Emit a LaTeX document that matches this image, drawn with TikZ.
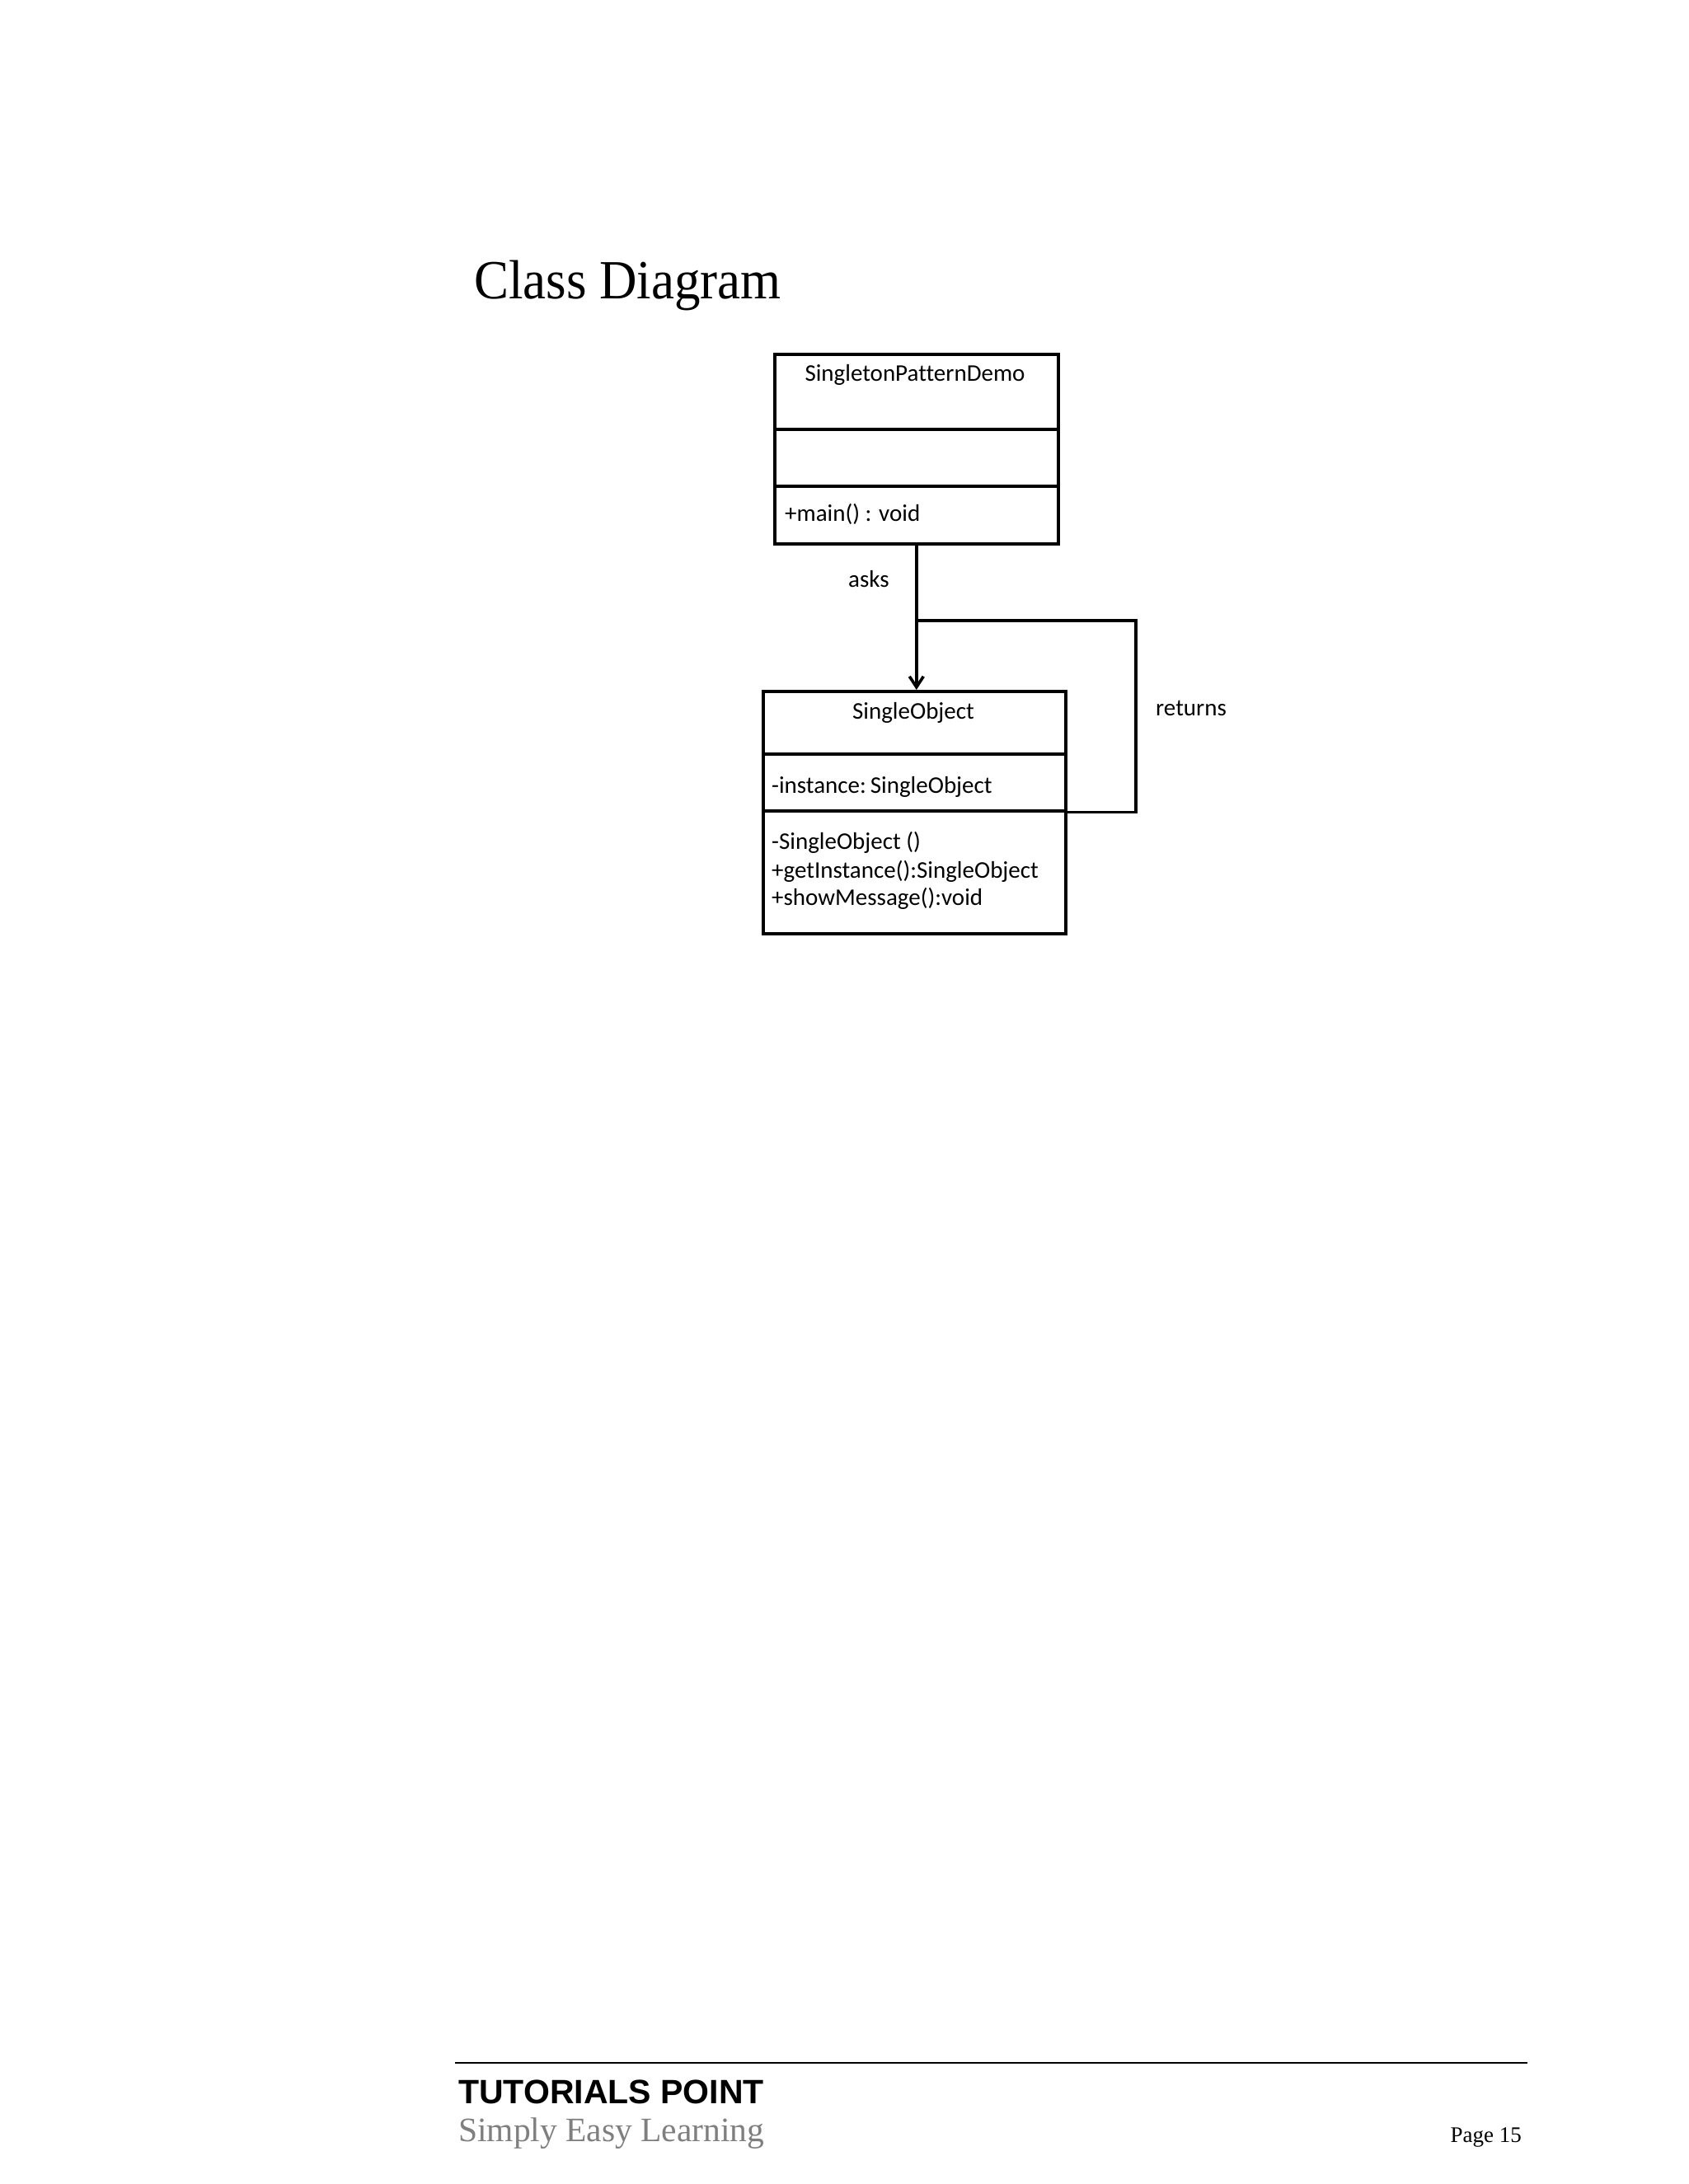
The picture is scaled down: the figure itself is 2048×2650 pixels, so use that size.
\documentclass[tikz,border=0pt]{standalone}
\usepackage{fontspec}
\setmainfont{Liberation Serif}
\newfontfamily\umlfont{Carlito}[Ligatures=NoCommon]
\newfontfamily\headfont{Liberation Sans}
\usetikzlibrary{arrows.meta}
\definecolor{footgray}{HTML}{7F7F7F}
\tikzset{
  compart/.style={draw=black, line width=3.6pt, anchor=north west, inner sep=0pt, minimum width=#1},
  umltext/.style={inner sep=0pt, font=\umlfont\fontsize{29}{34}\selectfont},
  conn/.style={draw=black, line width=3.6pt},
}
\begin{document}
\begin{tikzpicture}[x=1pt,y=-1pt]
\useasboundingbox (0,0) rectangle (2048,2650);
\fill[white] (0,0) rectangle (2048,2650);

% Title
\node[inner sep=0pt, anchor=base west, font=\fontsize{67}{72}\selectfont] (title) at (575,362) {\scalebox{0.94}[1]{Class Diagram}};

% SingletonPatternDemo class
\node[compart=344pt, minimum height=91pt] (demoTitle) at (938,428) {};
\node[compart=344pt, minimum height=69pt] (demoAttr) at (938,519) {};
\node[compart=344pt, minimum height=70pt] (demoOps) at (938,588) {};
\node[umltext, anchor=base] (demoName) at (1110,462) {SingletonPatternDemo};
\node[umltext, anchor=base west] (demoMain) at (952,632) {+main() : void};

% SingleObject class
\node[compart=367pt, minimum height=76pt] (soTitle) at (924,837) {};
\node[compart=367pt, minimum height=69pt] (soAttr) at (924,913) {};
\node[compart=367pt, minimum height=149pt] (soOps) at (924,982) {};
\node[umltext, anchor=base] (soName) at (1108,872) {SingleObject};
\node[umltext, anchor=base west] (soInst) at (936,962) {-instance:\hspace{5pt}SingleObject};
\node[umltext, anchor=base west] (soCtor) at (936,1030) {-SingleObject ()};
\node[umltext, anchor=base west] (soGet) at (936,1065) {+getInstance():SingleObject};
\node[umltext, anchor=base west] (soShow) at (936,1098) {+showMessage():void};

% connectors
\coordinate (retTop) at (1378,753);
\coordinate (join) at (1110,753);
\draw[conn, -{Straight Barb[length=13pt,width=17pt,line width=3.6pt]}] (demoOps.south) -- (demoOps.south |- soTitle.north);
\draw[conn, line join=miter] (soAttr.south east) -| (retTop) -- (join);

\node[umltext, anchor=base west] (asks) at (1029,712) {asks};
\node[umltext, anchor=base west] (returns) at (1402,868) {returns};

% footer
\coordinate (footL) at (552,2503);
\coordinate (footR) at (1853,2503);
\draw[line width=2.8pt] (footL) -- (footR);
\node[inner sep=0pt, anchor=base west, font=\headfont\bfseries\fontsize{41}{44}\selectfont] (tp) at (556,2552) {TUTORIALS POINT};
\node[inner sep=0pt, anchor=base west, text=footgray, font=\fontsize{41.5}{46}\selectfont] (sel) at (556,2598) {Simply Easy Learning};
\node[inner sep=0pt, anchor=base east, font=\fontsize{27}{30}\selectfont] (page) at (1846,2599) {Page 15};
\end{tikzpicture}
\end{document}
